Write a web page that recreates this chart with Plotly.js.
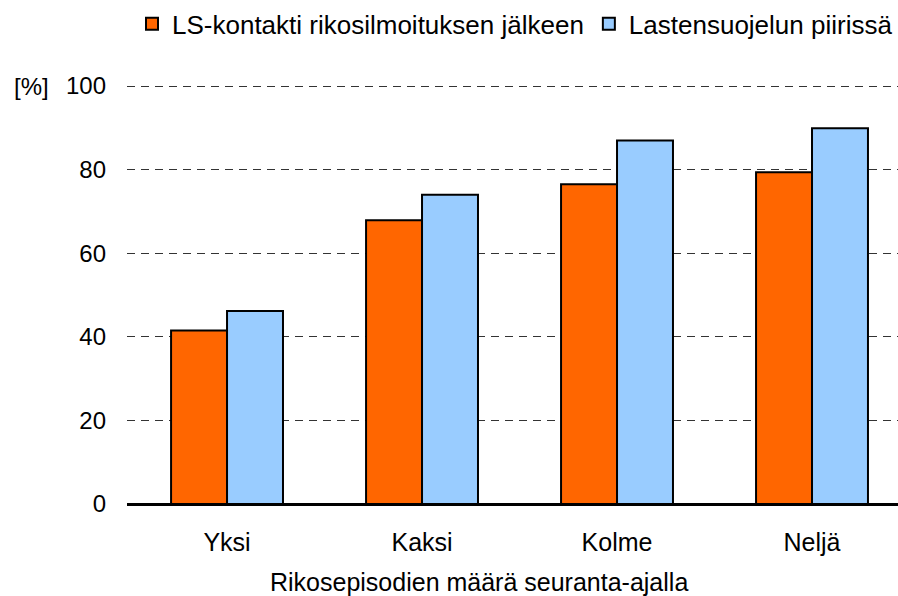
<!DOCTYPE html>
<html>
<head>
<meta charset="utf-8">
<script src="https://cdn.plot.ly/plotly-3.0.1.min.js"></script>
<style>html,body{margin:0;padding:0;background:#fff;}#chart{width:898px;height:596px;}</style>
</head>
<body>
<div id="chart"></div>
<script>
const categories = ["Yksi", "Kaksi", "Kolme", "Neljä"];
const seriesNames = ["LS-kontakti rikosilmoituksen jälkeen", "Lastensuojelun piirissä"];
const lsKontakti = [41.5, 67.9, 76.5, 79.4];
const lastensuojelu = [46.2, 74.0, 87.0, 89.9];
const yTicks = [0, 20, 40, 60, 80, 100];
const xTitle = "Rikosepisodien määrä seuranta-ajalla";
const yUnit = "[%]";

const FONT = "Liberation Sans, Arial, sans-serif";

const traces = [
  {type: "bar", name: seriesNames[0], x: categories, y: lsKontakti,
   marker: {color: "#FF6600", line: {color: "#000", width: 2}}},
  {type: "bar", name: seriesNames[1], x: categories, y: lastensuojelu,
   marker: {color: "#99CCFF", line: {color: "#000", width: 2}}}
];

const layout = {
  width: 898, height: 596,
  margin: {l: 127, r: 0, t: 84, b: 92},
  paper_bgcolor: "#fff", plot_bgcolor: "#fff",
  font: {family: FONT, size: 24, color: "#000"},
  barmode: "group", bargap: 0.426, bargroupgap: 0,
  showlegend: true,
  legend: {orientation: "h", x: 1, xanchor: "right", y: 1.143, yanchor: "middle",
           font: {family: FONT, size: 26, color: "#000"}, itemwidth: 30, traceorder: "normal"},
  xaxis: {range: [-0.513, 3.441], showgrid: false, showline: false, zeroline: false,
          ticks: "", tickfont: {size: 25}, ticklabelstandoff: 21},
  yaxis: {range: [0, 100.5], tickvals: yTicks, showgrid: true, gridcolor: "#333",
          griddash: "8px,6px", gridwidth: 1, zeroline: true, zerolinecolor: "#000", zerolinewidth: 3,
          showline: false, ticks: "", tickfont: {size: 24}, ticklabelstandoff: 20},
  annotations: [
    {text: yUnit, xref: "paper", yref: "y", x: 0, y: 100, xshift: -127 + 12,
     xanchor: "left", yanchor: "middle", showarrow: false, font: {size: 24}},
    {text: xTitle, xref: "paper", yref: "paper", x: 0.4565, y: 0, yshift: -78,
     xanchor: "center", yanchor: "middle", showarrow: false, font: {size: 25}}
  ]
};

Plotly.newPlot("chart", traces, layout, {displayModeBar: false, staticPlot: true});
</script>
</body>
</html>
